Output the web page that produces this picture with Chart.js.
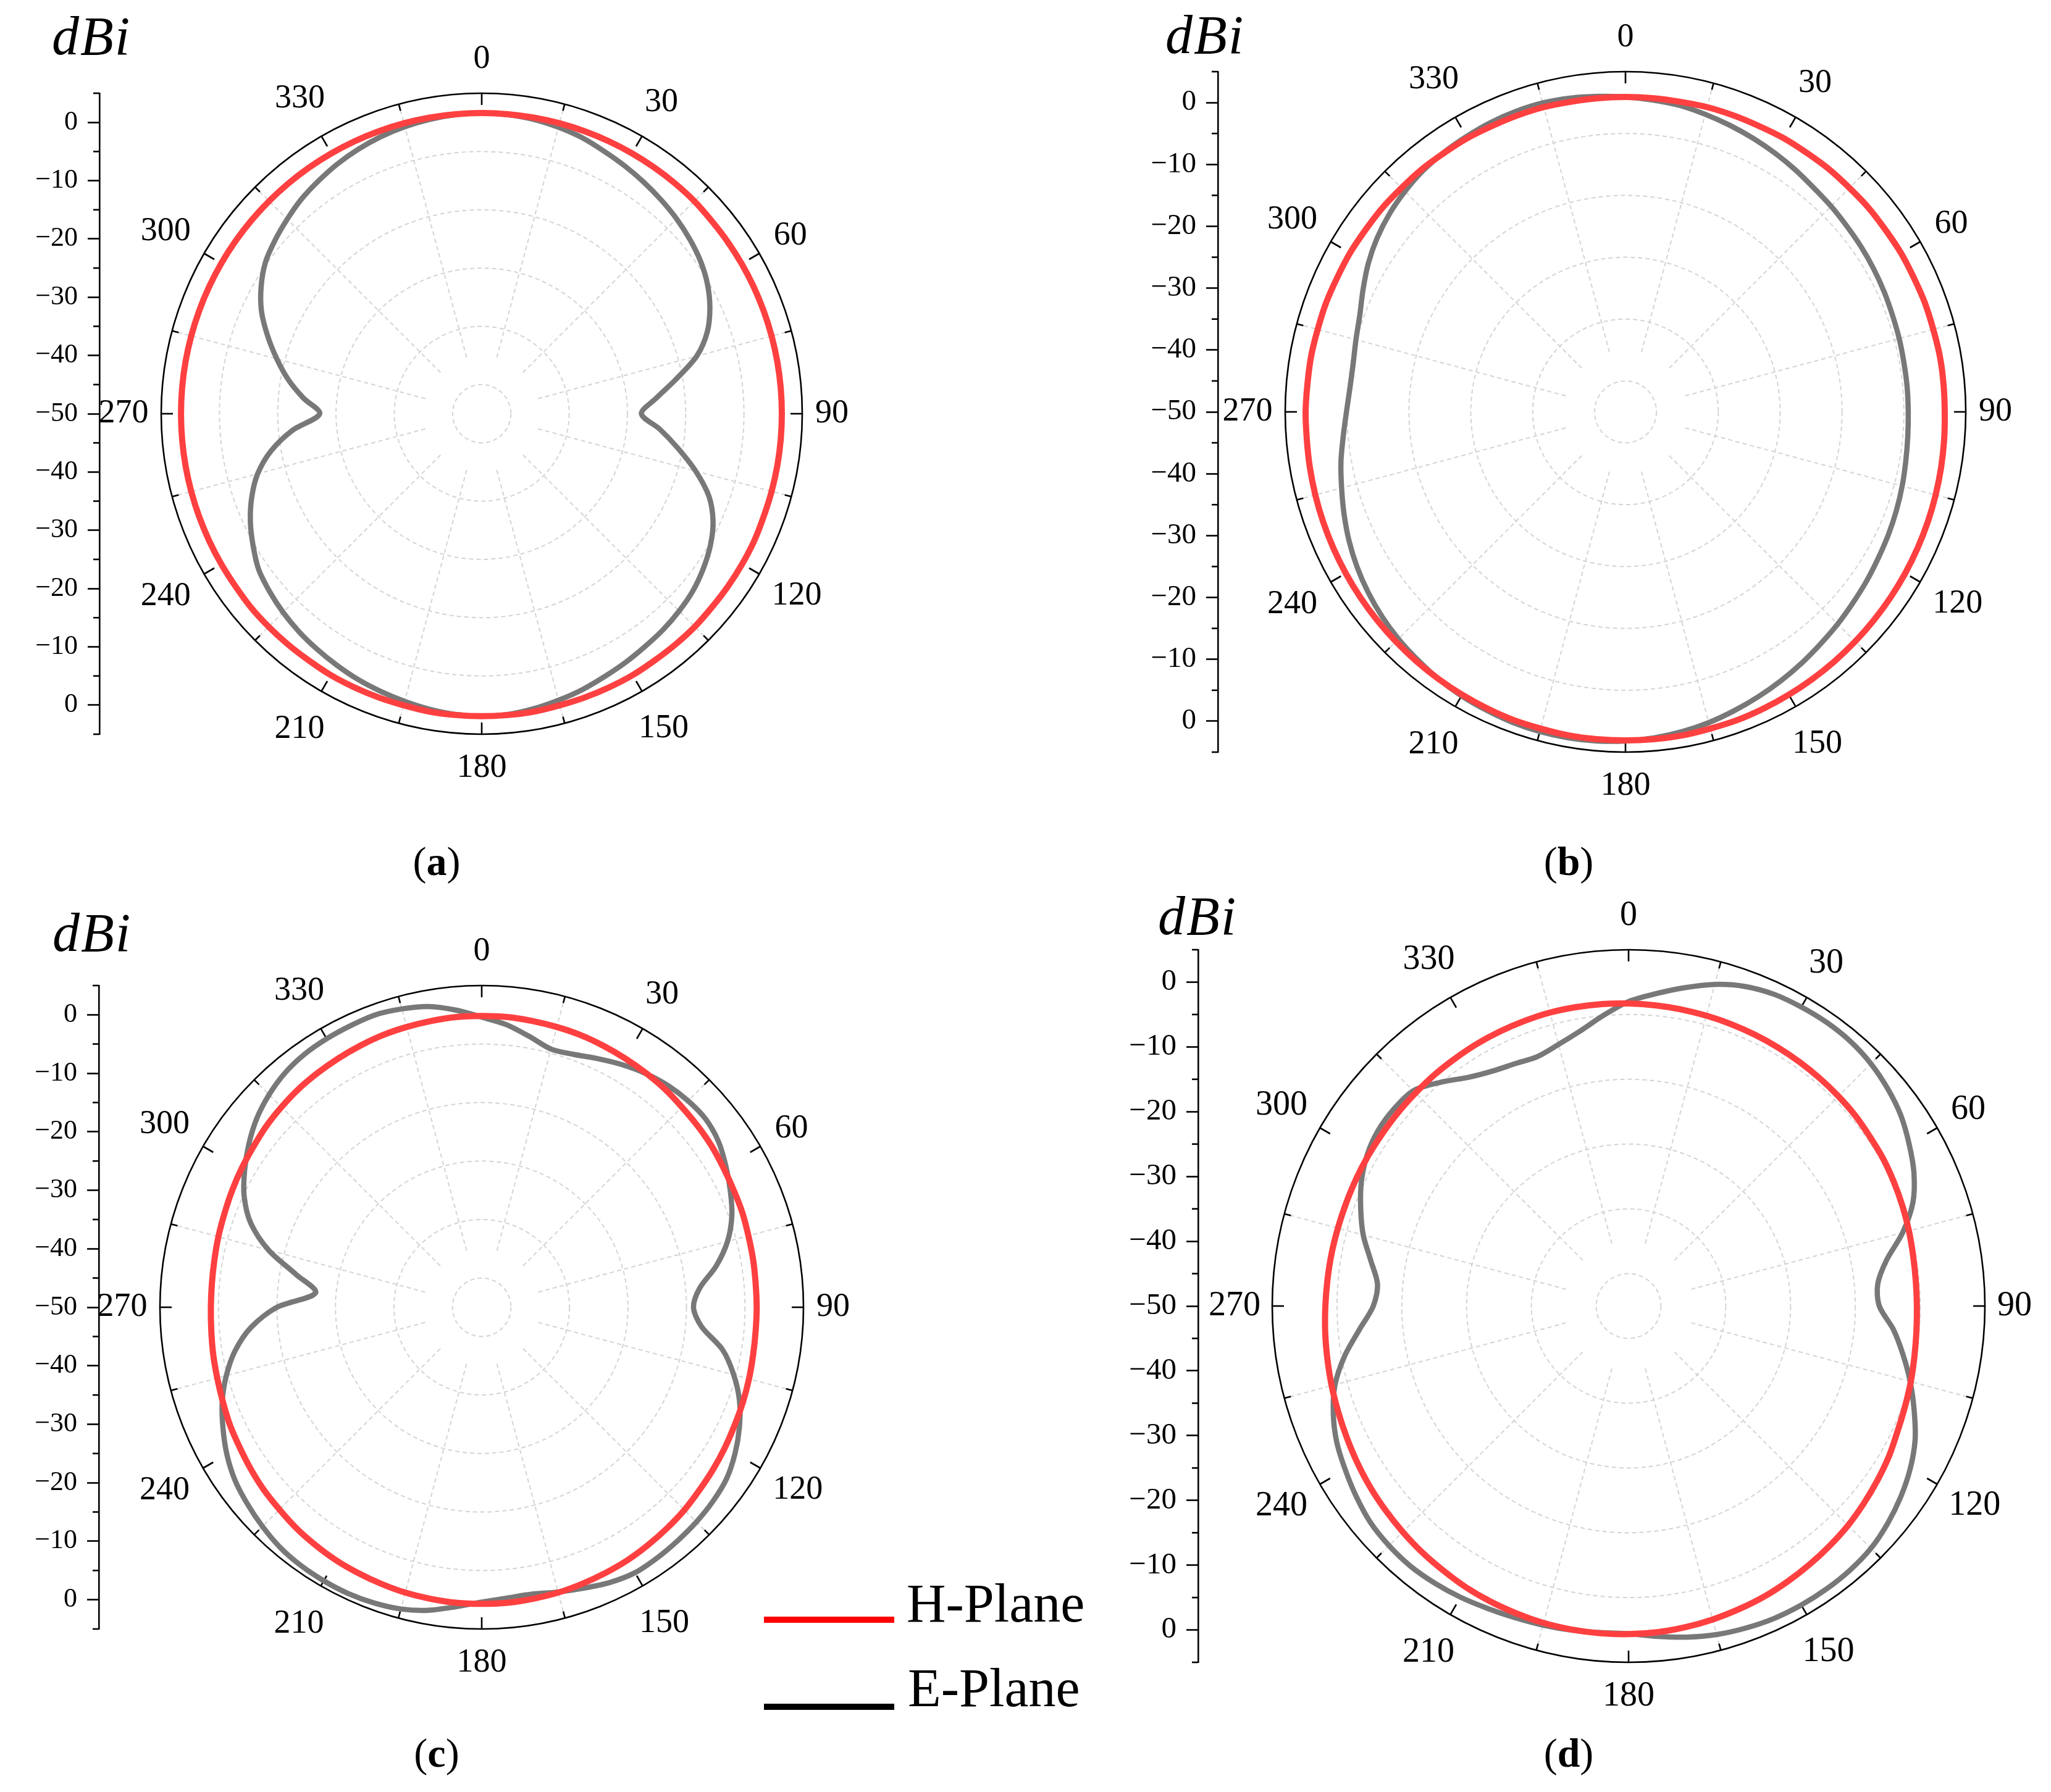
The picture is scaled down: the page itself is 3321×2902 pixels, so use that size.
<!DOCTYPE html>
<html><head><meta charset="utf-8">
<script src="https://cdn.jsdelivr.net/npm/chart.js@4.4.1/dist/chart.umd.min.js"></script>
<style>
html,body{margin:0;padding:0;background:#fff;}
body{width:3321px;height:2902px;position:relative;overflow:hidden;font-family:"Liberation Serif","Times New Roman",serif;color:#000;}
canvas{position:absolute;}
.dbi{position:absolute;font-style:italic;font-size:88px;line-height:88px;white-space:nowrap;letter-spacing:2px;}
.cap{position:absolute;width:300px;text-align:center;font-size:66px;line-height:66px;}
.lg-line{position:absolute;height:10px;}
.lg-text{position:absolute;font-size:88px;line-height:88px;white-space:nowrap;}
</style></head><body>
<div class="dbi" style="left:84px;top:15px">dBi</div>
<div class="dbi" style="left:1887px;top:13px">dBi</div>
<div class="dbi" style="left:85px;top:1467px">dBi</div>
<div class="dbi" style="left:1875px;top:1440px">dBi</div>
<div class="cap" style="left:557px;top:1362px">(<b>a</b>)</div>
<div class="cap" style="left:2390px;top:1362px">(<b>b</b>)</div>
<div class="cap" style="left:557px;top:2806px">(<b>c</b>)</div>
<div class="cap" style="left:2390px;top:2806px">(<b>d</b>)</div>
<div class="lg-line" style="left:1237px;top:2618px;width:211px;background:#ff0000"></div>
<div class="lg-line" style="left:1237px;top:2759px;width:211px;background:#000000"></div>
<div class="lg-text" style="left:1468px;top:2553px">H-Plane</div>
<div class="lg-text" style="left:1470px;top:2690px">E-Plane</div>
<script>
// ---------- data ----------
const ANGLES = [0,5,10,15,20,25,30,35,40,45,50,55,
  60,65,70,75,80,85,90,95,100,105,110,115,
  120,125,130,135,140,145,150,155,160,165,170,175,
  180,185,190,195,200,205,210,215,220,225,230,235,
  240,245,250,255,260,265,270,275,280,285,290,295,
  300,305,310,315,320,325,330,335,340,345,350,355];

const ANGLE_TICKS = [0,30,60,90,120,150,180,210,240,270,300,330];
const ANGLE_TICK_LABELS = ['0','30','60','90','120','150','180','210','240','270','300','330'];
const SPOKE_ANGLES = [15,45,75,105,135,165,195,225,255,285,315,345];
const RING_VALUES = [-50,-45,-35,-25,-15,-5];
const AXIS_TICK_VALUES = [50,40,30,20,10,0,-10,-20,-30,-40,-50];
const AXIS_TICK_LABELS = ['0','\u221210','\u221220','\u221230','\u221240','\u221250','\u221240','\u221230','\u221220','\u221210','0'];
const AXIS_MINOR_VALUES = [55,45,35,25,15,5,-5,-15,-25,-35,-45,-55];

// (a)
const H_A = [1.6,1.6,1.6,1.6,1.6,1.6,1.6,1.6,1.6,1.6,1.5,1.5,
  1.5,1.5,1.5,1.5,1.5,1.5,1.5,1.5,1.5,1.5,1.5,1.6,
  1.6,1.6,1.6,1.7,1.7,1.7,1.8,1.8,1.8,1.8,1.9,1.9,
  1.9,1.9,1.9,1.8,1.8,1.8,1.8,1.7,1.7,1.7,1.7,1.6,
  1.6,1.6,1.6,1.6,1.6,1.6,1.6,1.6,1.6,1.6,1.6,1.6,
  1.6,1.6,1.6,1.6,1.6,1.6,1.6,1.6,1.6,1.6,1.6,1.6];
const E_A = [1.6,1.5,1.3,0.9,0.4,-0.3,-0.9,-1.5,-2.1,-2.7,-3.4,-4.2,
  -5.3,-6.8,-8.8,-11.8,-16.2,-20.0,-22.6,-19.3,-15.8,-12.0,-8.5,-6.2,
  -4.7,-3.6,-2.7,-2.1,-1.6,-1.2,-0.7,-0.2,0.4,0.9,1.4,1.8,
  1.9,1.8,1.5,1.1,0.7,0.3,-0.2,-0.7,-1.2,-1.8,-2.5,-3.3,
  -4.7,-6.2,-8.0,-10.2,-13.3,-17.4,-22.2,-19.3,-16.3,-13.6,-10.9,-8.3,
  -6.3,-4.7,-3.7,-2.8,-1.9,-1.2,-0.5,0.1,0.6,1.0,1.3,1.5];
// (b)
const H_B = [0.9,0.9,0.9,1.0,1.0,1.0,1.1,1.1,1.2,1.2,1.3,1.3,
  1.4,1.4,1.5,1.5,1.6,1.6,1.6,1.7,1.8,1.9,2.0,2.1,
  2.2,2.3,2.4,2.5,2.6,2.7,2.8,2.9,3.0,3.0,3.1,3.1,
  3.1,3.1,3.1,3.0,3.0,2.9,2.8,2.7,2.6,2.5,2.4,2.3,
  2.2,2.1,2.0,1.9,1.8,1.7,1.7,1.6,1.6,1.5,1.5,1.4,
  1.4,1.3,1.3,1.2,1.2,1.1,1.1,1.0,1.0,1.0,0.9,0.9];
const E_B = [0.9,0.6,0.3,-0.2,-0.7,-1.2,-1.7,-2.2,-2.7,-3.0,-3.3,-3.5,
  -3.7,-3.9,-4.1,-4.2,-4.3,-4.3,-4.3,-4.2,-4.0,-3.7,-3.4,-3.1,
  -2.8,-2.4,-2.0,-1.5,-1.0,-0.4,0.2,0.8,1.4,2.0,2.5,2.9,
  3.2,3.4,3.5,3.5,3.4,3.2,3.0,2.7,2.3,1.9,1.4,0.8,
  0.1,-0.7,-1.6,-2.5,-3.3,-4.2,-4.9,-5.3,-5.3,-4.9,-4.3,-3.2,
  -2.0,-1.0,-0.2,0.4,0.9,1.2,1.4,1.6,1.7,1.7,1.5,1.2];
// (c)
const H_C = [-0.2,-0.2,-0.3,-0.4,-0.5,-0.7,-0.9,-1.1,-1.3,-1.6,-1.8,-2.0,
  -2.3,-2.5,-2.6,-2.8,-2.9,-3.0,-3.0,-3.0,-2.9,-2.7,-2.5,-2.3,
  -2.0,-1.7,-1.4,-1.0,-0.7,-0.4,-0.1,0.1,0.3,0.5,0.6,0.7,
  0.7,0.7,0.6,0.5,0.3,0.1,-0.1,-0.4,-0.7,-1.1,-1.4,-1.8,
  -2.2,-2.5,-2.9,-3.2,-3.4,-3.6,-3.7,-3.7,-3.6,-3.4,-3.2,-2.9,
  -2.6,-2.3,-1.9,-1.6,-1.3,-1.1,-0.9,-0.7,-0.5,-0.4,-0.3,-0.2];
const E_C = [-0.4,-1.5,-3.0,-4.3,-4.0,-3.1,-2.1,-1.2,-0.5,-0.1,0.0,-0.6,
  -1.8,-3.1,-4.5,-6.5,-9.3,-12.6,-13.8,-12.3,-8.2,-5.4,-3.1,-1.4,
  0.0,1.1,1.6,1.9,2.1,2.3,2.4,1.9,1.1,0.4,-0.2,-0.1,
  0.4,1.4,2.6,3.4,3.8,4.0,4.0,3.9,3.6,3.0,2.3,1.5,
  0.3,-1.2,-2.8,-4.8,-7.2,-10.4,-15.0,-21.5,-17.8,-12.3,-8.0,-5.2,
  -3.2,-1.4,0.2,1.4,2.3,2.8,3.0,3.1,3.2,2.8,2.2,1.0];
// (d)
const H_D = [-3.3,-3.4,-3.5,-3.6,-3.7,-3.8,-3.9,-4.0,-4.1,-4.2,-4.3,-4.5,
  -4.6,-4.8,-5.0,-5.2,-5.4,-5.5,-5.5,-5.4,-5.2,-4.9,-4.6,-4.2,
  -3.6,-3.1,-2.6,-2.1,-1.7,-1.3,-0.9,-0.5,-0.2,0.1,0.35,0.55,
  0.65,0.7,0.7,0.65,0.5,0.35,0.15,-0.15,-0.4,-0.7,-1.0,-1.3,
  -1.65,-2.0,-2.3,-2.55,-2.8,-3.0,-3.2,-3.35,-3.45,-3.55,-3.6,-3.6,
  -3.6,-3.6,-3.55,-3.5,-3.4,-3.35,-3.25,-3.2,-3.15,-3.1,-3.15,-3.2];
const E_D = [-3.0,-1.6,-0.1,1.4,2.5,3.1,3.3,3.4,3.3,2.9,2.2,1.3,
  0.0,-1.4,-3.3,-6.2,-9.6,-11.4,-11.3,-9.0,-7.0,-5.0,-3.1,-1.2,
  0.2,1.3,2.2,2.9,3.2,3.3,3.3,3.2,2.9,2.5,1.9,1.2,
  0.6,0.6,0.8,1.0,1.2,1.5,1.9,2.2,2.4,2.3,2.0,1.3,
  0.5,-0.3,-1.5,-3.1,-5.5,-8.3,-10.6,-11.1,-9.6,-7.6,-6.0,-4.5,
  -3.4,-2.8,-2.7,-3.0,-4.9,-6.9,-8.1,-8.7,-9.0,-8.2,-6.9,-5.0];

const SERIES_NAMES = ['H-Plane','E-Plane'];
const R_MIN = -50, R_MAX = 5, SPOKE_START = -40, AXIS_HALF = 55;

// ---------- layout / style ----------
const PANELS = [
  {id:'a', cx:780,  cy:670,  R:519, axisX:161,  H:H_A, E:E_A, axisFont:44, angleFont:54},
  {id:'b', cx:2632, cy:667,  R:551, axisX:1972, H:H_B, E:E_B, axisFont:47, angleFont:54},
  {id:'c', cx:780,  cy:2117, R:521, axisX:160,  H:H_C, E:E_C, axisFont:44, angleFont:54},
  {id:'d', cx:2637, cy:2115, R:577, axisX:1940, H:H_D, E:E_D, axisFont:49, angleFont:56}
];
const LABEL_GAP = [55,63,58,48,70,70,55,71,72,61,72,70];
const RED = '#ff4040', GRAY = '#787878', GRID = '#d4d4d4';
const FONT_NAME = 'Liberation Serif';
const FONT = "'Liberation Serif', serif";

function addCanvas(left, top, w, h) {
  const c = document.createElement('canvas');
  c.width = w; c.height = h;
  c.style.left = left + 'px'; c.style.top = top + 'px';
  c.style.width = w + 'px'; c.style.height = h + 'px';
  document.body.appendChild(c);
  return c;
}

function makeDecor(p) {
  return {
    id: 'decor' + p.id,
    beforeDatasetsDraw(chart) {
      const s = chart.scales.r, ctx = chart.ctx, labels = chart.data.labels;
      const rIn = s.getDistanceFromCenterForValue(SPOKE_START);
      const rOut = s.getDistanceFromCenterForValue(R_MAX);
      ctx.save();
      ctx.strokeStyle = GRID; ctx.lineWidth = 2; ctx.setLineDash([7, 5]);
      labels.forEach((a, i) => {
        if (!SPOKE_ANGLES.includes(a)) return;
        const p1 = s.getPointPosition(i, rIn), p2 = s.getPointPosition(i, rOut);
        ctx.beginPath(); ctx.moveTo(p1.x, p1.y); ctx.lineTo(p2.x, p2.y); ctx.stroke();
      });
      ctx.setLineDash([]);
      ctx.strokeStyle = '#000'; ctx.lineWidth = 2.6;
      ctx.beginPath(); ctx.arc(s.xCenter, s.yCenter, rOut, 0, Math.PI * 2); ctx.stroke();
      labels.forEach((a, i) => {
        if (a % 15 !== 0) return;
        const len = a % 30 === 0 ? 19 : 11;
        const p1 = s.getPointPosition(i, rOut), p2 = s.getPointPosition(i, rOut - len);
        ctx.beginPath(); ctx.moveTo(p1.x, p1.y); ctx.lineTo(p2.x, p2.y); ctx.stroke();
      });
      ctx.fillStyle = '#000';
      ctx.font = p.angleFont + 'px ' + FONT;
      ctx.textAlign = 'center'; ctx.textBaseline = 'middle';
      ANGLE_TICKS.forEach((a, k) => {
        const i = labels.indexOf(a);
        const q = s.getPointPosition(i, rOut + LABEL_GAP[k]);
        ctx.fillText(ANGLE_TICK_LABELS[k], q.x, q.y);
      });
      ctx.restore();
    }
  };
}

const axisMinor = {
  id: 'axisMinor',
  afterDraw(chart) {
    const s = chart.scales.y, ctx = chart.ctx;
    ctx.save(); ctx.strokeStyle = '#000'; ctx.lineWidth = 2.6;
    AXIS_MINOR_VALUES.forEach(v => {
      const y = s.getPixelForValue(v);
      ctx.beginPath(); ctx.moveTo(s.right - 10, y); ctx.lineTo(s.right, y); ctx.stroke();
    });
    ctx.restore();
  }
};

function build() {
  Chart.defaults.font.family = FONT;
  PANELS.forEach(p => {
    // left linear dB axis
    const W = 130, PADV = 60;
    const ac = addCanvas(p.axisX - W, p.cy - p.R - PADV, W + 40, 2 * p.R + 2 * PADV);
    new Chart(ac, {
      type: 'scatter',
      data: { datasets: [] },
      options: {
        responsive: false, animation: false, devicePixelRatio: 1,
        layout: { padding: { left: 0, right: 0, top: PADV, bottom: PADV } },
        plugins: { legend: { display: false }, tooltip: { enabled: false } },
        scales: {
          x: { display: false, min: 0, max: 1 },
          y: {
            min: -AXIS_HALF, max: AXIS_HALF,
            afterBuildTicks: s => { s.ticks = AXIS_TICK_VALUES.map(v => ({ value: v })); },
            afterFit: s => { s.width = W; s.paddingTop = 0; s.paddingBottom = 0; },
            ticks: {
              autoSkip: false, padding: 16, color: '#000',
              font: { family: FONT, size: p.axisFont, lineHeight: 1 },
              callback: v => AXIS_TICK_LABELS[AXIS_TICK_VALUES.indexOf(v)]
            },
            grid: { drawOnChartArea: false, drawTicks: true, tickLength: 19, tickWidth: 2.6, tickColor: '#000' },
            border: { display: true, color: '#000', width: 2.6 }
          }
        }
      },
      plugins: [axisMinor]
    });

    // polar pattern
    const M = 160, S = 2 * p.R + 2 * M;
    const pc = addCanvas(p.cx - p.R - M, p.cy - p.R - M, S, S);
    new Chart(pc, {
      type: 'radar',
      data: {
        labels: ANGLES,
        datasets: [
          { label: SERIES_NAMES[0], data: p.H, borderColor: RED, borderWidth: 10, pointRadius: 0, pointHitRadius: 0, fill: false, tension: 0.3, borderJoinStyle: 'round' },
          { label: SERIES_NAMES[1], data: p.E, borderColor: GRAY, borderWidth: 8.5, pointRadius: 0, pointHitRadius: 0, fill: false, tension: 0.3, borderJoinStyle: 'round' }
        ]
      },
      options: {
        responsive: false, animation: false, devicePixelRatio: 1,
        layout: { padding: M },
        plugins: { legend: { display: false }, tooltip: { enabled: false } },
        scales: {
          r: {
            min: R_MIN, max: R_MAX, startAngle: 0, beginAtZero: false,
            afterBuildTicks: s => { s.ticks = RING_VALUES.map(v => ({ value: v })); },
            ticks: { display: false },
            pointLabels: { display: false },
            angleLines: { display: false },
            grid: { circular: true, color: GRID, lineWidth: 2 },
            border: { dash: [7, 5] }
          }
        }
      },
      plugins: [makeDecor(p)]
    });
  });
}

let built = false;
function buildOnce() { if (!built) { built = true; build(); } }
if (document.fonts && document.fonts.load) {
  Promise.all([
    document.fonts.load("44px '" + FONT_NAME + "'", '0123456789\u2212'),
    document.fonts.load("56px '" + FONT_NAME + "'", '0123456789')
  ]).then(buildOnce, buildOnce);
  setTimeout(buildOnce, 1500);
} else {
  buildOnce();
}
</script>
</body></html>
